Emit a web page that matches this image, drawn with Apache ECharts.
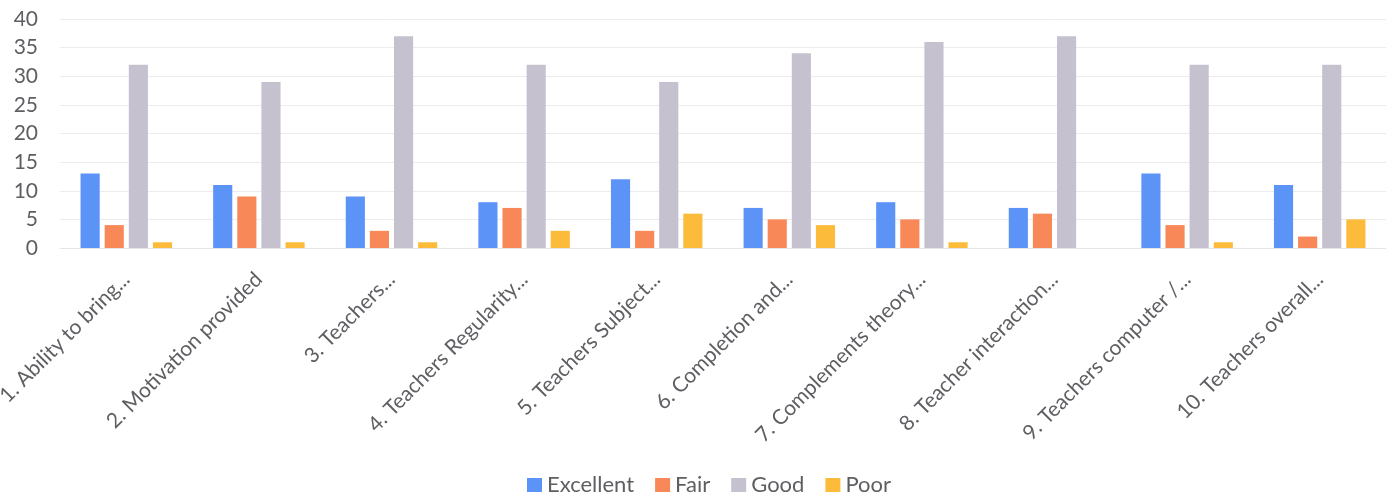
<!DOCTYPE html>
<html>
<head>
<meta charset="utf-8">
<script src="https://cdn.jsdelivr.net/npm/echarts@6/dist/echarts.min.js"></script>
<style>
html,body{margin:0;padding:0;background:#fff;}
#chart{width:1394px;height:499px;}
</style>
</head>
<body>
<div id="chart"></div>
<script>
const categories = [
  "1. Ability to bring...",
  "2. Motivation provided",
  "3. Teachers...",
  "4. Teachers Regularity...",
  "5. Teachers Subject...",
  "6. Completion and...",
  "7. Complements theory...",
  "8. Teacher interaction...",
  "9. Teachers computer /...",
  "10. Teachers overall..."
];
const excellent = [13, 11, 9, 8, 12, 7, 8, 7, 13, 11];
const fair      = [4, 9, 3, 7, 3, 5, 5, 6, 4, 2];
const good      = [32, 29, 37, 32, 29, 34, 36, 37, 32, 32];
const poor      = [1, 1, 1, 3, 6, 4, 1, 0, 1, 5];
const seriesNames = ["Excellent", "Fair", "Good", "Poor"];
const yTicks = [0, 5, 10, 15, 20, 25, 30, 35, 40];

const colors = ["#5B93F6", "#F98858", "#C5C1CE", "#FDBB3B"];
const FONT = "Lato";
const TXT = "#5f5f63";

const chart = echarts.init(document.getElementById('chart'), null, {renderer: 'canvas'});
const dataSets = [excellent, fair, good, poor];
chart.setOption({
  animation: false,
  color: colors,
  textStyle: {fontFamily: FONT},
  grid: {left: 60, right: 8, top: 19, bottom: 251, containLabel: false, outerBoundsMode: 'none'},
  legend: {
    data: seriesNames,
    bottom: -2,
    left: 522,
    icon: 'rect',
    itemWidth: 15,
    itemHeight: 14,
    itemGap: 21,
    textStyle: {fontFamily: FONT, fontSize: 22, color: TXT}
  },
  xAxis: {
    type: 'category',
    data: categories,
    axisLine: {show: true, lineStyle: {color: '#e6e6e6', width: 1}},
    axisTick: {show: false},
    axisLabel: {
      interval: 0,
      rotate: 45,
      margin: 28,
      fontFamily: FONT,
      fontSize: 21,
      color: TXT
    }
  },
  yAxis: {
    type: 'value',
    min: yTicks[0],
    max: yTicks[yTicks.length - 1],
    interval: 5,
    axisLine: {show: false},
    axisTick: {show: false},
    splitLine: {lineStyle: {color: '#ececec', width: 1}},
    axisLabel: {fontFamily: FONT, fontSize: 21, color: TXT, margin: 22}
  },
  series: seriesNames.map((n, i) => ({
    name: n,
    type: 'bar',
    data: dataSets[i],
    barGap: '26%',
    barCategoryGap: '31%'
  }))
});
</script>
</body>
</html>
